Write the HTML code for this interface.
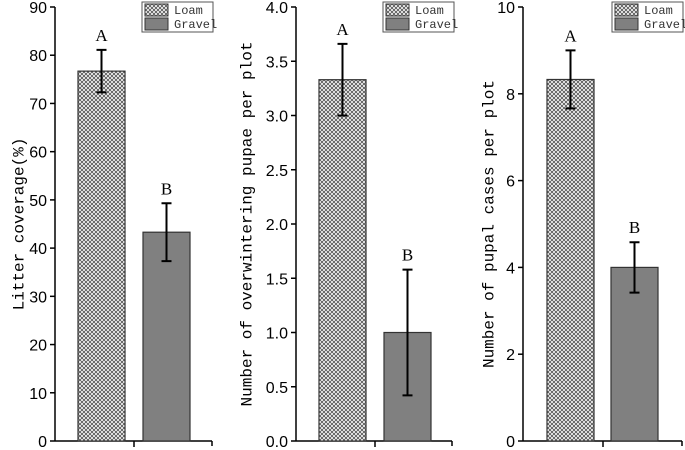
<!DOCTYPE html>
<html><head><meta charset="utf-8"><style>
html,body{margin:0;padding:0;background:#fff;width:685px;height:450px;overflow:hidden}
svg text{font-family:"Liberation Mono","Noto Sans CJK SC",monospace}
.tk{font-family:"Liberation Sans",sans-serif;font-size:16px}
</style></head><body>
<svg id="chart" width="685" height="450" xmlns="http://www.w3.org/2000/svg">
<defs>
<pattern id="hatch" patternUnits="userSpaceOnUse" width="4" height="4">
<rect width="4" height="4" fill="#fff"/>
<path d="M0,0L4,4M4,0L0,4" stroke="#555" stroke-width="0.9"/>
</pattern>
</defs>
</svg>
<script>
const panelTitles = ["Litter coverage(%)", "Number of overwintering pupae per plot", "Number of pupal cases per plot"];
const categories = ["Loam", "Gravel"];
const loamValues = [76.7, 3.33, 8.33];
const loamErrors = [4.4, 0.33, 0.67];
const gravelValues = [43.3, 1.0, 4.0];
const gravelErrors = [6.0, 0.58, 0.58];
const letters = ["A", "B"];
const yMaxes = [90, 4.0, 10];
const tickLabels = [
  ["0","10","20","30","40","50","60","70","80","90"],
  ["0.0","0.5","1.0","1.5","2.0","2.5","3.0","3.5","4.0"],
  ["0","2","4","6","8","10"]
];
const tickValues = [
  [0,10,20,30,40,50,60,70,80,90],
  [0,0.5,1,1.5,2,2.5,3,3.5,4],
  [0,2,4,6,8,10]
];

const NS = "http://www.w3.org/2000/svg";
const svg = document.getElementById("chart");
function mk(tag, attrs, parent) {
  const e = document.createElementNS(NS, tag);
  for (const k in attrs) e.setAttribute(k, attrs[k]);
  (parent || svg).appendChild(e);
  return e;
}
const layouts = [
  {ax:55, xEnd:212, bar0:78, bar1:143, bw:47, tick:134, leg:142, titleX:18},
  {ax:296, xEnd:452, bar0:319, bar1:384, bw:47, tick:375, leg:383, titleX:246},
  {ax:523, xEnd:682, bar0:547, bar1:611, bw:47, tick:603, leg:612, titleX:488}
];
const plotTop = 7, plotBottom = 441;

layouts.forEach((L, p) => {
  const g = mk("g", {});
  
  
  const y = v => plotBottom - v / yMaxes[p] * (plotBottom - plotTop);
  const ya = mk("line", {x1:L.ax, y1:plotTop, x2:L.ax, y2:plotBottom, stroke:"#000", "stroke-width":1.5}, g);
  
  
  const xa = mk("line", {x1:L.ax, y1:plotBottom, x2:L.xEnd, y2:plotBottom, stroke:"#000", "stroke-width":1.5}, g);
  
  
  mk("line", {x1:L.tick, y1:plotBottom, x2:L.tick, y2:plotBottom+6, stroke:"#000", "stroke-width":1.5}, g);
  mk("line", {x1:L.xEnd, y1:plotBottom, x2:L.xEnd, y2:plotBottom+5, stroke:"#000", "stroke-width":1.5}, g);
  tickValues[p].forEach((v, i) => {
    mk("line", {x1:L.ax-5, y1:y(v), x2:L.ax, y2:y(v), stroke:"#000", "stroke-width":1.5}, g);
    const t = mk("text", {x:L.ax-8, y:y(v)+6, "text-anchor":"end", class:"tk"}, g);
    t.textContent = tickLabels[p][i];
    
    
  });
  const cy = (plotTop + plotBottom) / 2;
  const tt = mk("text", {x:L.titleX, y:cy, "text-anchor":"middle", "font-size":16, transform:`rotate(-90 ${L.titleX} ${cy})`, dy:"0.35em"}, g);
  tt.textContent = panelTitles[p];
  
  
  const vals = [loamValues[p], gravelValues[p]];
  const errs = [loamErrors[p], gravelErrors[p]];
  [L.bar0, L.bar1].forEach((bx, i) => {
    const b = mk("rect", {x:bx, y:y(vals[i]), width:L.bw, height:plotBottom - y(vals[i]), fill: i===0 ? "url(#hatch)" : "#808080", stroke:"#333", "stroke-width":1.2}, g);
    
    
    const cx = bx + L.bw/2;
    const hi = y(vals[i] + errs[i]), lo = y(vals[i] - errs[i]);
    const eb = mk("path", {d:`M${cx},${hi}V${lo}M${cx-5},${hi}H${cx+5}M${cx-5},${lo}H${cx+5}`, stroke:"#000", "stroke-width":2, fill:"none"}, g);
    
    
    const lt = mk("text", {x:cx, y:hi-9, "text-anchor":"middle", style:"font-family:'Liberation Serif',serif;font-size:17px"}, g);
    lt.textContent = letters[i];
    
    
  });
  const lg = mk("g", {}, g);
  
  
  mk("rect", {x:L.leg, y:2, width:71, height:30, fill:"#fff", stroke:"#555", "stroke-width":1}, lg);
  categories.forEach((c, i) => {
    mk("rect", {x:L.leg+3, y:4+i*14, width:23, height:12, fill: i===0 ? "url(#hatch)" : "#808080", stroke:"#333", "stroke-width":1}, lg);
    const t = mk("text", {x:L.leg+32, y:14+i*14, "font-size":12, fill:"#333"}, lg);
    t.textContent = c;
    
    
  });
});
</script>
</body></html>
